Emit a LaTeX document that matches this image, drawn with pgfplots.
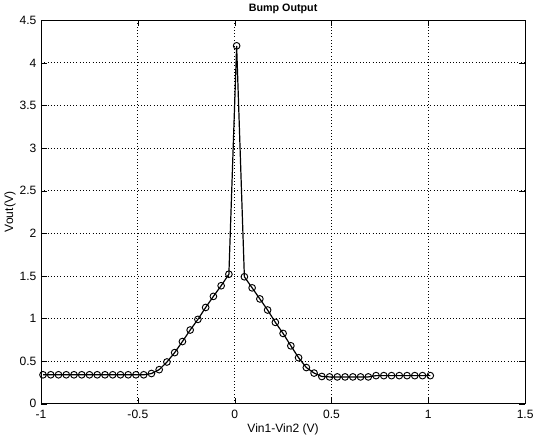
\documentclass[border=0pt]{standalone}
\usepackage{fontspec}
\setmainfont{Liberation Sans}
\usepackage{pgfplots}
\pgfplotsset{compat=1.18}

\begin{document}
\begin{tikzpicture}
\begin{axis}[
    scale only axis,
    width=361pt,
    height=286pt,
    xmin=-1, xmax=1.5,
    ymin=0, ymax=4.5,
    xtick={-1,-0.5,0,0.5,1,1.5},
    ytick={0,0.5,1,1.5,2,2.5,3,3.5,4,4.5},
    grid=major,
    major grid style={black, dotted, line width=0.6pt},
    tick align=inside,
    tick pos=both,
    axis line style={black, line width=0.7pt},
    tick style={black},
    /pgf/number format/assume math mode=true,
    ticklabel style={font=\small},
    xticklabel style={yshift=-1pt},
    title={\bfseries Bump Output},
    title style={font=\footnotesize, yshift=-5pt},
    xlabel={Vin1-Vin2 (V)},
    ylabel={Vout(V)},
    label style={font=\small},
    xlabel style={yshift=3pt},
    ylabel style={yshift=-4pt},
]
\addplot[black, line width=0.9pt, mark=o, mark size=2.5pt, mark options={line width=0.7pt}] coordinates {
    (-0.99,0.34) (-0.95,0.34) (-0.91,0.34) (-0.87,0.34) (-0.83,0.34)
    (-0.79,0.34) (-0.75,0.34) (-0.71,0.34) (-0.67,0.34) (-0.63,0.34)
    (-0.59,0.34) (-0.55,0.34) (-0.51,0.34) (-0.47,0.34) (-0.43,0.355)
    (-0.39,0.40) (-0.35,0.49) (-0.31,0.60) (-0.27,0.73) (-0.23,0.865)
    (-0.19,0.99) (-0.15,1.13) (-0.11,1.26) (-0.07,1.385) (-0.03,1.52)
    (0.01,4.2)
    (0.05,1.49) (0.09,1.36) (0.13,1.23) (0.17,1.10) (0.21,0.955)
    (0.25,0.825) (0.29,0.68) (0.33,0.54) (0.37,0.425) (0.41,0.36)
    (0.45,0.32) (0.49,0.315) (0.53,0.315) (0.57,0.315) (0.61,0.315)
    (0.65,0.315) (0.69,0.315) (0.73,0.33) (0.77,0.33) (0.81,0.33)
    (0.85,0.33) (0.89,0.33) (0.93,0.33) (0.97,0.33) (1.01,0.33)
};
\end{axis}
\end{tikzpicture}
\end{document}
